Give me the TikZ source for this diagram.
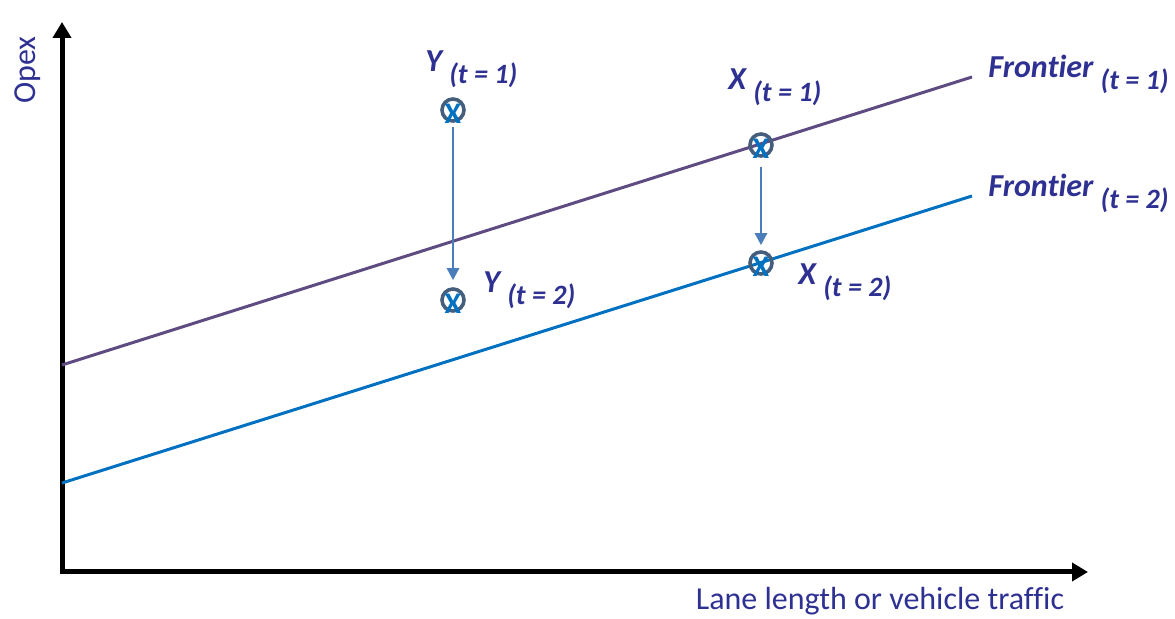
\documentclass[tikz,border=0pt]{standalone}
\usepackage{fontspec}
\setmainfont{Carlito}[Ligatures=CommonOff]
\usetikzlibrary{arrows.meta, positioning}

\definecolor{txtblue}{RGB}{46,49,146}
\definecolor{frontone}{RGB}{94,75,130}
\definecolor{fronttwo}{RGB}{0,112,192}
\definecolor{ringgrey}{RGB}{68,94,124}
\definecolor{shiftblue}{RGB}{74,126,187}

\newcommand{\tsub}[1]{\raisebox{-6pt}{\fontsize{14}{16}\selectfont (t = #1)}}

\begin{document}
\begin{tikzpicture}[
    x=0.5pt, y=-0.5pt,
    axis/.style = {line width=2.5pt, {Triangle[length=8pt, width=9pt]}-{Triangle[length=8pt, width=9pt]}},
    frontier/.style = {line width=1.5pt},
    ring/.style = {circle, draw=ringgrey, line width=1.8pt, minimum size=11pt, inner sep=0pt},
    cross/.style = {text=fronttwo, font=\bfseries\fontsize{15}{15}\selectfont, inner sep=0pt},
    point/.style = {font=\bfseries\itshape\fontsize{16}{18}\selectfont, text=txtblue, anchor=base west, inner sep=0pt},
    drop/.style = {draw=shiftblue, line width=1.3pt, -{Triangle[length=6pt, width=6pt]}},
    axlabel/.style = {font=\fontsize{16}{18}\selectfont, text=txtblue, inner sep=0pt}
]
    \useasboundingbox (0,0) rectangle (1175,619);

    % Axes
    \coordinate (origin) at (62,572);
    \coordinate (ytip) at (62,22);
    \coordinate (xtip) at (1088,572);
    \draw [axis] (ytip) |- (xtip);
    \node (opex) [axlabel, rotate=90, anchor=base] at (35,70) {Opex};
    \node (traffic) [axlabel, anchor=base] at (880,610) {Lane length or vehicle traffic};

    % Frontiers
    \coordinate (f1a) at (62,365);
    \coordinate (f1b) at (972,77);
    \coordinate (f2a) at (62,483);
    \coordinate (f2b) at (972,196);
    \draw [frontier, frontone] (f1a) -- (f1b);
    \draw [frontier, fronttwo] (f2a) -- (f2b);
    \node (f1lbl) [point] at (988,78) {Frontier \tsub{1}};
    \node (f2lbl) [point] at (988,197) {Frontier \tsub{2}};

    % Points
    \node (y1) [ring] at (453,110) {};
    \node (y2) [ring] at (453,300) {};
    \node (x1) [ring] at (761,145) {};
    \node (x2) [ring] at (761,263) {};
    \node (y1x) [cross] at ([yshift=-2pt]y1) {X};
    \node (y2x) [cross] at ([yshift=-2pt]y2) {X};
    \node (x1x) [cross] at ([yshift=-2pt]x1) {X};
    \node (x2x) [cross] at ([yshift=-2pt]x2) {X};

    \node (y1lbl) [point] at (425,72) {Y \tsub{1}};
    \node (y2lbl) [point] at (483,293) {Y \tsub{2}};
    \node (x1lbl) [point] at (728,90) {X \tsub{1}};
    \node (x2lbl) [point] at (798,285) {X \tsub{2}};

    % Drops
    \path [drop, shorten <=2pt, shorten >=3.5pt] (y1) -- (y2);
    \path [drop, shorten <=4.5pt, shorten >=2.5pt] (x1) -- (x2);

\end{tikzpicture}
\end{document}
